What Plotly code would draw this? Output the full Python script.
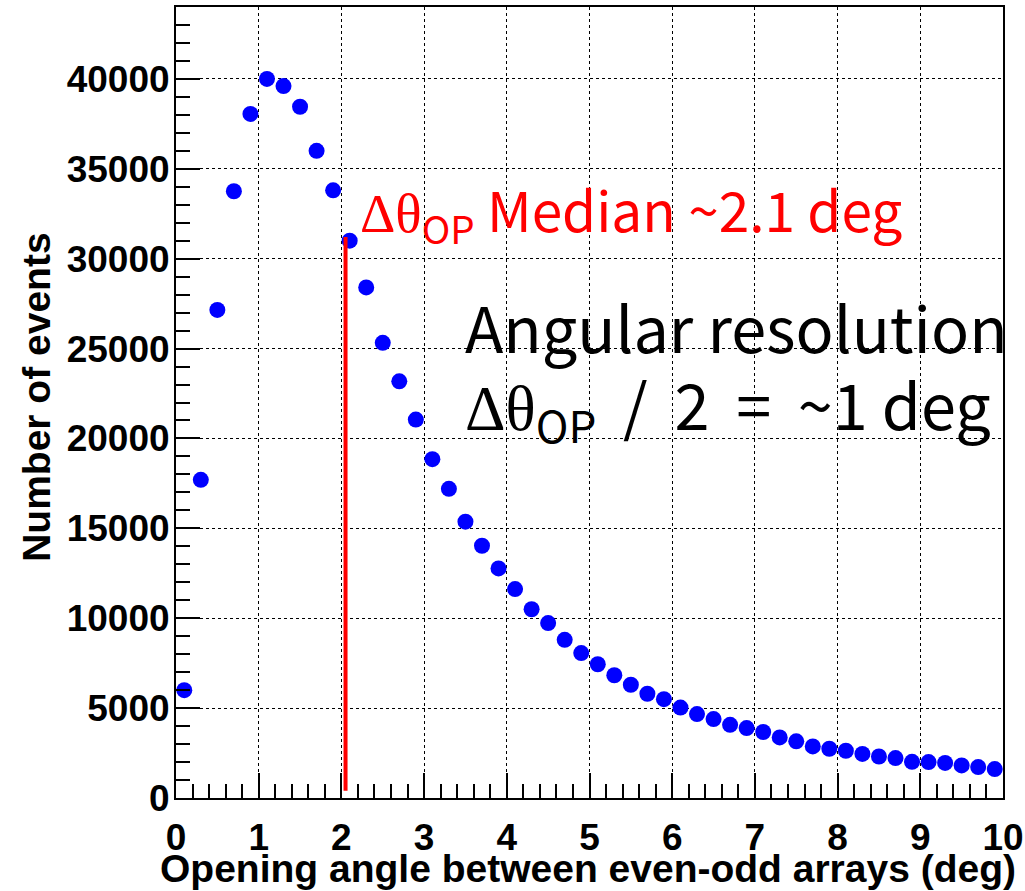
import plotly.graph_objects as go

# Bin centres (deg) and counts
angle_deg = [0.1, 0.3, 0.5, 0.7, 0.9, 1.1, 1.3, 1.5, 1.7, 1.9,
             2.1, 2.3, 2.5, 2.7, 2.9, 3.1, 3.3, 3.5, 3.7, 3.9,
             4.1, 4.3, 4.5, 4.7, 4.9, 5.1, 5.3, 5.5, 5.7, 5.9,
             6.1, 6.3, 6.5, 6.7, 6.9, 7.1, 7.3, 7.5, 7.7, 7.9,
             8.1, 8.3, 8.5, 8.7, 8.9, 9.1, 9.3, 9.5, 9.7, 9.9]
events = [6000, 17700, 27150, 33750, 38050, 40000, 39600, 38450, 36000, 33800,
          31000, 28400, 25320, 23180, 21050, 18850, 17200, 15370, 14030, 12770,
          11620, 10500, 9730, 8800, 8060, 7440, 6830, 6300, 5800, 5500,
          5030, 4670, 4390, 4070, 3890, 3670, 3370, 3150, 2870, 2740,
          2630, 2450, 2310, 2220, 2010, 2000, 1950, 1810, 1720, 1610]

median_deg = 2.05
median_line_y = [400, 31200]

x_range = [0, 10]
y_range = [0, 44000]
x_ticks = [0, 1, 2, 3, 4, 5, 6, 7, 8, 9, 10]
y_ticks = [0, 5000, 10000, 15000, 20000, 25000, 30000, 35000, 40000]

x_title = "Opening angle between even-odd arrays (deg)"
y_title = "Number of events"
DT = '<span style="font-family:Liberation Serif">Δθ</span>'
median_text = DT + '<sub>OP</sub> Median ~2.1 deg'
res_line1 = "Angular resolution"
res_line2 = DT + '<sub>OP</sub>\u2009 /\u2009 2\u2009 =\u2009 ~1 deg'

fig = go.Figure()

fig.add_trace(go.Scatter(
    x=angle_deg, y=events, mode="markers",
    marker=dict(color="#0000ff", size=16, line=dict(width=0)),
    showlegend=False, cliponaxis=False,
))

fig.add_trace(go.Scatter(
    x=[median_deg, median_deg], y=median_line_y, mode="lines",
    line=dict(color="#ff0000", width=4), showlegend=False,
))

tick_font = dict(family="Liberation Sans", size=37, color="black", weight="bold")
title_font = dict(family="Liberation Sans", size=39, color="black", weight="bold")

fig.update_xaxes(
    range=x_range, tickvals=x_ticks, ticktext=[str(v) for v in x_ticks],
    ticks="inside", ticklen=25, tickwidth=2, tickcolor="black",
    minor=dict(dtick=0.2, ticks="inside", ticklen=14, tickwidth=2,
               tickcolor="black", showgrid=False),
    showgrid=True, gridcolor="black", gridwidth=1, griddash="dot",
    showline=True, linecolor="black", linewidth=2, mirror=True,
    zeroline=False, tickfont=tick_font,
    ticklabelstandoff=6,
)
fig.update_yaxes(
    range=y_range, tickvals=y_ticks, ticktext=[str(v) for v in y_ticks],
    ticks="inside", ticklen=24, tickwidth=2, tickcolor="black",
    minor=dict(dtick=1000, ticks="inside", ticklen=14, tickwidth=2,
               tickcolor="black", showgrid=False),
    showgrid=True, gridcolor="black", gridwidth=1, griddash="dot",
    showline=True, linecolor="black", linewidth=2, mirror=True,
    zeroline=False, tickfont=tick_font,
    ticklabelstandoff=-3,
)

# axis titles
fig.add_annotation(
    x=0.498, y=-0.0895, xref="paper", yref="paper", text=x_title,
    showarrow=False, xanchor="center", yanchor="middle", font=title_font,
)
fig.add_annotation(
    x=-0.168, y=0.506, xref="paper", yref="paper", text=y_title,
    showarrow=False, xanchor="center", yanchor="middle", textangle=-90,
    font=title_font,
)

fig.add_annotation(
    x=2.2, y=32610, xref="x", yref="y", text=median_text, showarrow=False,
    xanchor="left", yanchor="middle",
    font=dict(family="Noto Sans CJK JP", size=55, color="#ff0000"),
)
fig.add_annotation(
    x=3.47, y=26300, xref="x", yref="y", text=res_line1, showarrow=False,
    xanchor="left", yanchor="middle",
    font=dict(family="Noto Sans CJK JP", size=63, color="black"),
)
fig.add_annotation(
    x=3.47, y=21800, xref="x", yref="y", text=res_line2, showarrow=False,
    xanchor="left", yanchor="middle",
    font=dict(family="Noto Sans CJK JP", size=63, color="black"),
)

fig.update_layout(
    width=1025, height=891,
    margin=dict(l=176, r=22, t=7, b=93, autoexpand=False),
    paper_bgcolor="white", plot_bgcolor="white",
)

fig.write_html("out.html")
